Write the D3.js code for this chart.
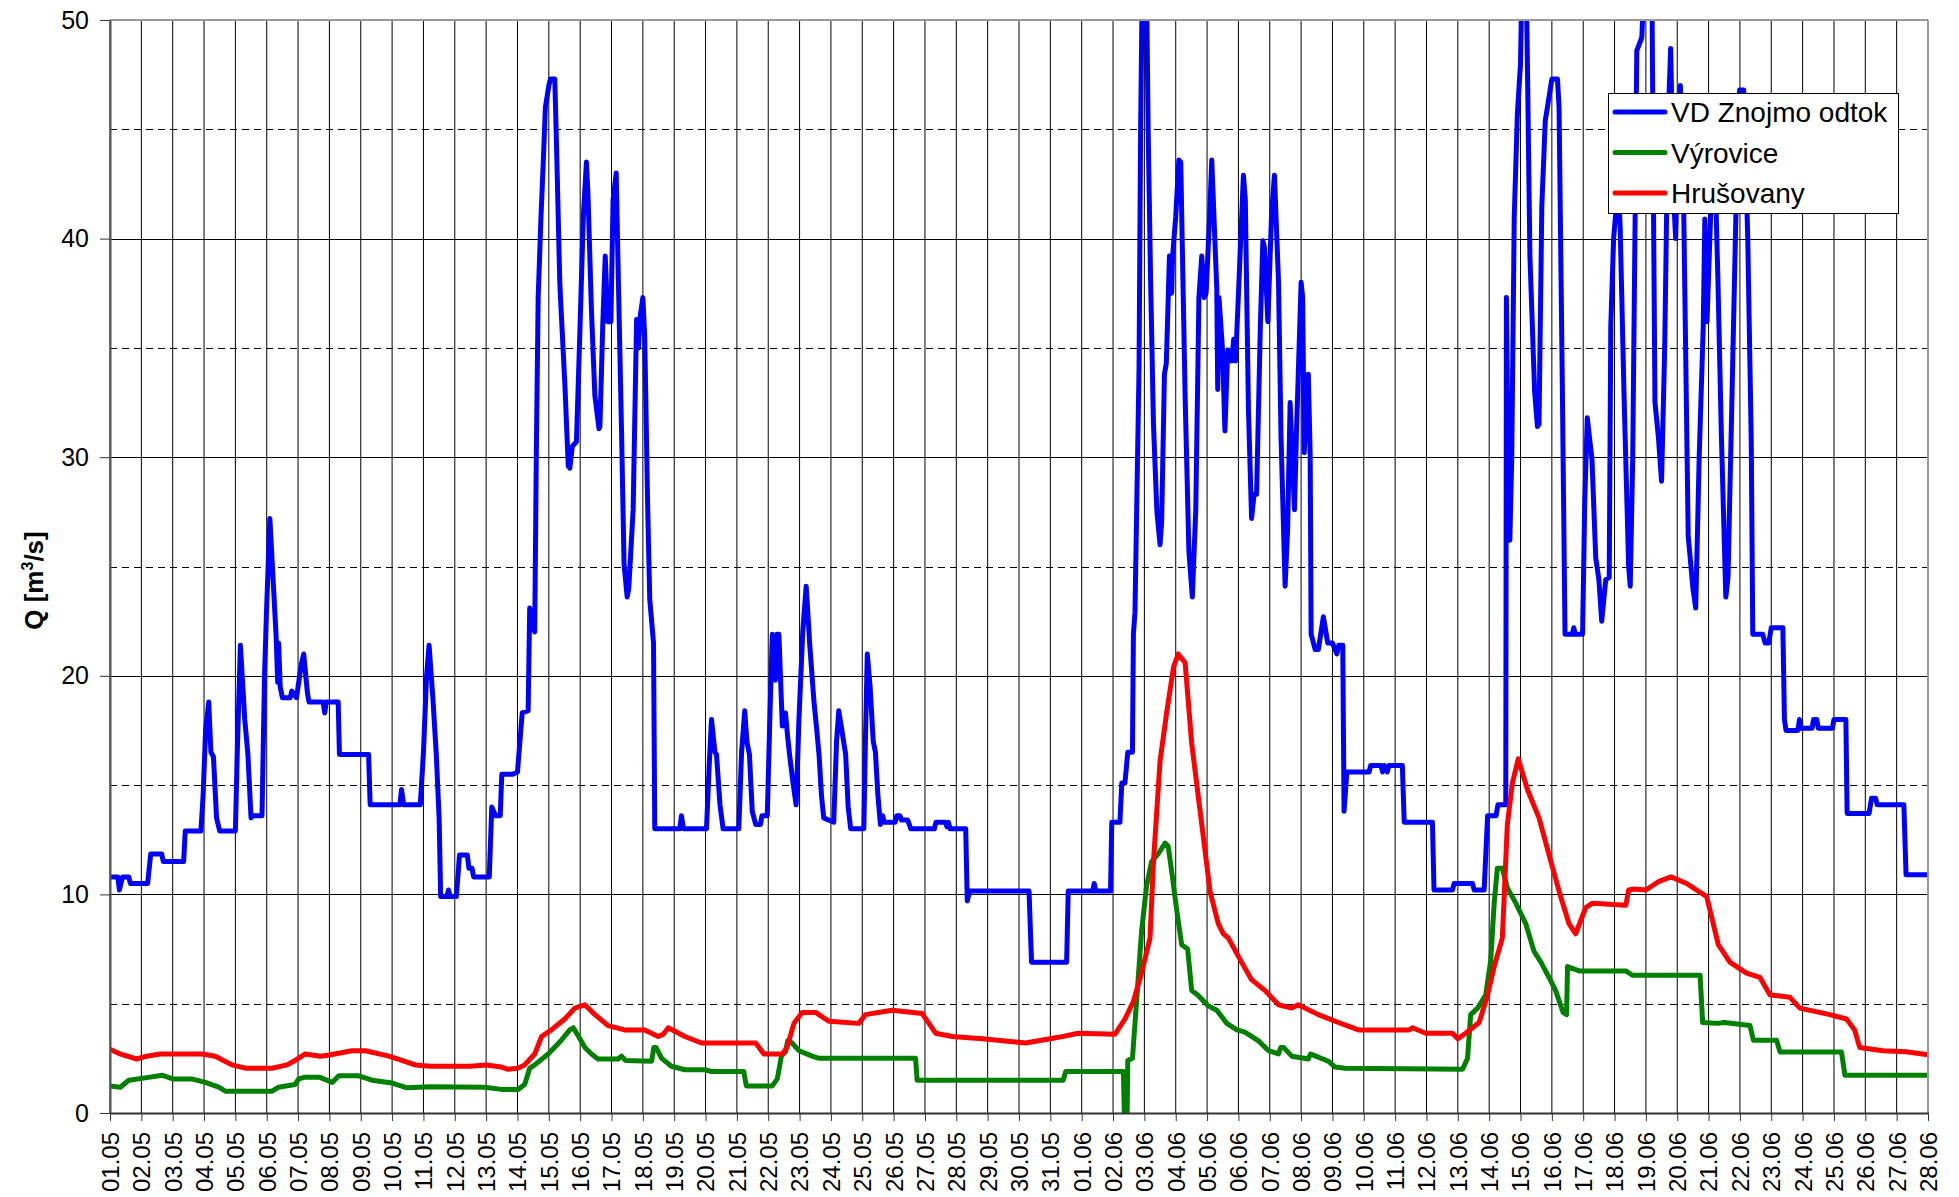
<!DOCTYPE html>
<html>
<head>
<meta charset="utf-8">
<script src="https://cdn.jsdelivr.net/npm/d3@7"></script>
<style>
  body { margin: 0; background: #fff; }
  text { font-family: "Liberation Sans", Arial, sans-serif; }
</style>
</head>
<body>
<svg id="chart" width="1959" height="1197"></svg>
<script>
// time in days from 01.05 00:00, flow in m3/s
const znojmo = [
  [0, 10.8], [0.25, 10.8], [0.3, 10.2], [0.4, 10.8], [0.6, 10.8], [0.65, 10.5], [1.2, 10.5], [1.3, 11.85], [1.65, 11.85],
  [1.7, 11.5], [2.35, 11.5], [2.4, 12.9], [2.9, 12.9], [2.97, 14.5], [3.05, 17.5], [3.15, 18.8], [3.22, 16.5], [3.3, 16.3],
  [3.4, 13.5], [3.5, 12.9], [4.0, 12.9], [4.07, 17], [4.16, 21.4], [4.3, 18], [4.4, 16.4], [4.5, 13.5], [4.55, 13.6],
  [4.85, 13.6], [4.93, 20], [4.99, 22.8], [5.1, 27.2], [5.2, 24.5], [5.3, 21.8], [5.35, 19.7], [5.38, 21.5], [5.43, 19.5],
  [5.5, 19.0], [5.75, 19.0], [5.8, 19.3], [5.95, 19.0], [6.1, 20.5], [6.18, 21.0], [6.3, 19.2], [6.35, 18.8], [6.8, 18.8],
  [6.85, 18.3], [6.9, 18.8], [7.28, 18.8], [7.32, 16.4], [8.25, 16.4], [8.3, 14.1], [9.25, 14.1], [9.3, 14.8], [9.37, 14.1],
  [9.9, 14.1], [10.0, 16.5], [10.1, 20.0], [10.18, 21.4], [10.3, 19], [10.41, 16.4], [10.5, 13.5], [10.55, 9.9], [10.75, 9.9],
  [10.8, 10.2], [10.85, 9.9], [11.05, 9.9], [11.15, 11.8], [11.4, 11.8], [11.45, 11.2], [11.55, 11.2], [11.6, 10.8],
  [12.1, 10.8], [12.18, 14.0], [12.3, 13.6], [12.45, 13.6], [12.5, 15.5], [12.85, 15.5], [13.0, 15.6], [13.15, 18.3],
  [13.34, 18.4], [13.39, 23.1], [13.55, 22.0], [13.6, 30], [13.66, 37.3], [13.75, 41], [13.82, 43.4], [13.89, 46.0],
  [14.0, 47.0], [14.05, 47.3], [14.19, 47.3], [14.25, 44], [14.35, 38], [14.4, 36.5], [14.51, 33.4], [14.62, 29.6],
  [14.67, 29.5], [14.75, 30.5], [14.88, 30.7], [14.99, 35.7], [15.1, 41], [15.2, 43.5], [15.25, 42], [15.36, 36.7],
  [15.47, 32.8], [15.6, 31.3], [15.63, 31.4], [15.72, 36], [15.8, 39.2], [15.88, 36.2], [15.98, 36.2], [16.05, 41.8],
  [16.15, 43.0], [16.22, 38], [16.32, 31.2], [16.4, 25.1], [16.5, 23.6], [16.55, 24], [16.69, 27.6], [16.8, 36.3],
  [16.86, 35.0], [16.92, 36.5], [17.0, 37.3], [17.06, 35.5], [17.15, 28], [17.22, 23.5], [17.34, 21.5], [17.38, 13.0],
  [18.18, 13.0], [18.23, 13.6], [18.3, 13.0], [19.03, 13.0], [19.12, 16], [19.19, 18.0], [19.3, 16.5], [19.35, 16.4],
  [19.46, 14.1], [19.56, 13.0], [20.06, 13.0], [20.15, 16.5], [20.25, 18.4], [20.32, 17.0], [20.4, 16.4], [20.49, 13.8],
  [20.6, 13.2], [20.75, 13.2], [20.8, 13.6], [20.97, 13.6], [21.05, 18], [21.13, 21.9], [21.23, 19.8], [21.28, 21.9],
  [21.34, 21.9], [21.45, 17.7], [21.55, 18.3], [21.62, 17.2], [21.68, 16.4], [21.79, 15.1], [21.89, 14.1], [21.98, 18],
  [22.1, 22], [22.21, 24.1], [22.28, 22.5], [22.32, 21.5], [22.46, 18.8], [22.55, 17.5], [22.62, 16.4], [22.7, 14.5],
  [22.77, 13.5], [23.09, 13.3], [23.18, 17], [23.25, 18.4], [23.35, 17.5], [23.47, 16.4], [23.55, 14], [23.63, 13.0],
  [24.05, 13.0], [24.1, 17], [24.16, 21.0], [24.25, 19.5], [24.35, 17.0], [24.42, 16.5], [24.5, 14.5], [24.58, 13.2],
  [24.65, 13.6], [24.7, 13.3], [25.05, 13.3], [25.1, 13.6], [25.2, 13.6], [25.25, 13.4], [25.45, 13.4], [25.55, 13.0],
  [26.3, 13.0], [26.35, 13.3], [26.66, 13.3], [26.7, 13.1], [26.75, 13.3], [26.8, 13.0], [27.3, 13.0], [27.35, 9.7],
  [27.42, 10.15], [29.32, 10.15], [29.4, 6.9], [30.52, 6.9], [30.57, 10.15], [31.35, 10.15], [31.4, 10.5], [31.45, 10.15],
  [31.92, 10.15], [31.96, 13.3], [32.22, 13.3], [32.28, 15.1], [32.38, 15.1], [32.47, 16.5], [32.62, 16.5], [32.65, 21.9],
  [32.7, 22.9], [32.83, 34.1], [32.88, 45], [32.95, 54], [33.05, 54], [33.12, 45], [33.2, 38], [33.29, 31.5], [33.4, 27.5],
  [33.5, 26.0], [33.55, 27], [33.64, 33.8], [33.7, 34.3], [33.8, 39.2], [33.87, 37.5], [33.9, 39.2], [34.0, 41],
  [34.1, 43.6], [34.16, 43.5], [34.3, 32.8], [34.42, 25.7], [34.53, 23.6], [34.64, 27.6], [34.74, 37.3], [34.83, 39.2],
  [34.91, 37.3], [34.97, 37.5], [35.08, 41], [35.15, 43.6], [35.31, 37.7], [35.34, 33.1], [35.38, 37.3], [35.49, 35.0],
  [35.57, 31.2], [35.66, 34.9], [35.79, 34.4], [35.85, 35.4], [35.91, 34.4], [36.02, 38.1], [36.16, 42.9], [36.22, 41.8],
  [36.32, 32.2], [36.42, 27.2], [36.5, 28.3], [36.58, 28.3], [36.7, 36], [36.78, 39.9], [36.83, 39.6], [36.94, 36.2],
  [37.06, 41.2], [37.15, 42.9], [37.28, 38.0], [37.36, 30.9], [37.49, 24.1], [37.57, 26.7], [37.65, 32.5], [37.79, 27.6],
  [37.86, 31.5], [38.0, 38.0], [38.05, 37.3], [38.1, 30.2], [38.23, 33.8], [38.29, 30.1], [38.32, 21.9], [38.45, 21.2],
  [38.55, 21.2], [38.71, 22.7], [38.85, 21.5], [39.0, 21.5], [39.14, 21.0], [39.2, 21.4], [39.33, 21.4], [39.37, 13.8],
  [39.46, 15.6], [40.17, 15.6], [40.22, 15.9], [40.55, 15.9], [40.6, 15.6], [40.65, 15.9], [40.75, 15.6], [40.8, 15.9],
  [41.23, 15.9], [41.29, 13.3], [42.19, 13.3], [42.24, 10.2], [42.83, 10.2], [42.88, 10.5], [43.47, 10.5], [43.52, 10.2],
  [43.84, 10.2], [43.95, 13.6], [44.22, 13.6], [44.28, 14.1], [44.53, 14.1], [44.55, 37.3], [44.6, 30], [44.66, 26.2],
  [44.72, 30], [44.8, 41.0], [44.9, 45.7], [45.0, 48], [45.06, 53], [45.17, 53], [45.22, 48], [45.3, 39.2], [45.45, 33],
  [45.54, 31.4], [45.59, 31.5], [45.68, 41.5], [45.79, 45.4], [45.89, 46.3], [46.0, 47.3], [46.18, 47.3], [46.23, 46],
  [46.34, 32.5], [46.42, 21.9], [46.65, 21.9], [46.7, 22.2], [46.75, 21.9], [46.98, 21.9], [47.05, 28], [47.13, 31.8],
  [47.28, 29.9], [47.4, 25.4], [47.5, 24.4], [47.59, 22.5], [47.72, 24.4], [47.83, 24.5], [47.88, 36.0], [47.97, 40],
  [48.04, 41.2], [48.1, 43], [48.18, 40.5], [48.3, 33], [48.45, 25], [48.5, 24.1], [48.58, 30], [48.71, 48.6],
  [48.87, 49.2], [48.95, 52], [49.19, 52], [49.25, 40], [49.29, 32.5], [49.4, 30.9], [49.5, 28.9], [49.6, 35], [49.7, 45],
  [49.79, 48.7], [49.88, 42], [49.95, 40], [50.02, 44], [50.1, 47.0], [50.2, 42], [50.35, 26.4], [50.5, 24], [50.59, 23.1],
  [50.7, 30], [50.83, 36.0], [50.88, 40.9], [50.95, 36.2], [51.09, 42.1], [51.2, 43.5], [51.3, 38], [51.41, 30.9],
  [51.55, 23.6], [51.62, 24.5], [51.75, 33], [51.9, 43], [51.99, 46.8], [52.12, 46.8], [52.25, 40], [52.36, 30.9],
  [52.41, 21.9], [52.73, 21.9], [52.8, 21.5], [52.92, 21.5], [53.0, 22.2], [53.37, 22.2], [53.42, 18.0], [53.47, 17.5],
  [53.85, 17.5], [53.9, 18.0], [53.95, 17.6], [54.3, 17.6], [54.35, 18.0], [54.45, 18.0], [54.5, 17.6], [54.95, 17.6],
  [55.0, 18.0], [55.38, 18.0], [55.42, 13.7], [56.12, 13.7], [56.2, 14.4], [56.33, 14.4], [56.38, 14.1], [57.23, 14.1],
  [57.3, 10.9], [58, 10.9]
]

const vyrovice = [
  [0, 1.24], [0.33, 1.18], [0.6, 1.5], [1.23, 1.63], [1.66, 1.73], [2.0, 1.56], [2.6, 1.56], [3.04, 1.4], [3.47, 1.18],
  [3.68, 1.0], [5.17, 1.0], [5.38, 1.18], [5.9, 1.3], [6.02, 1.56], [6.2, 1.63], [6.7, 1.63], [7.09, 1.4], [7.3, 1.7],
  [7.94, 1.7], [8.36, 1.5], [9.0, 1.37], [9.48, 1.15], [10.22, 1.2], [11.96, 1.18], [12.49, 1.08], [13.02, 1.08],
  [13.23, 1.3], [13.39, 2.05], [13.55, 2.2], [13.98, 2.7], [14.4, 3.33], [14.67, 3.8], [14.78, 3.9], [14.95, 3.5],
  [15.15, 3.0], [15.36, 2.7], [15.57, 2.47], [16.21, 2.47], [16.32, 2.6], [16.45, 2.4], [17.28, 2.37], [17.35, 3.0],
  [17.42, 3.0], [17.6, 2.5], [17.91, 2.14], [18.34, 1.98], [18.98, 1.98], [19.19, 1.9], [20.22, 1.9], [20.3, 1.24],
  [21.13, 1.24], [21.29, 1.56], [21.42, 2.6], [21.55, 2.8], [21.62, 3.3], [21.76, 3.2], [21.98, 2.85], [22.4, 2.6],
  [22.62, 2.5], [25.7, 2.5], [25.75, 1.5], [30.41, 1.5], [30.49, 1.9], [32.33, 1.9], [32.36, 0], [32.45, 0], [32.47, 2.4],
  [32.62, 2.5], [32.75, 5.1], [32.91, 8.3], [33.07, 10.4], [33.23, 11.5], [33.45, 11.87], [33.66, 12.35], [33.76, 12.2],
  [33.87, 11.06], [34.03, 9.3], [34.19, 7.7], [34.38, 7.5], [34.51, 5.6], [34.7, 5.4], [35.04, 4.9], [35.31, 4.7],
  [35.63, 4.1], [35.95, 3.8], [36.21, 3.7], [36.64, 3.3], [36.96, 2.85], [37.28, 2.7], [37.35, 3.0], [37.44, 3.0],
  [37.7, 2.6], [38.23, 2.47], [38.3, 2.7], [38.39, 2.65], [38.87, 2.37], [39.08, 2.1], [39.4, 2.05], [43.15, 2.0],
  [43.31, 2.5], [43.41, 4.5], [43.63, 4.8], [43.89, 5.4], [44.05, 7.0], [44.16, 9.6], [44.26, 11.2], [44.42, 11.2],
  [44.58, 10.3], [44.85, 9.6], [45.17, 8.65], [45.43, 7.4], [45.65, 6.9], [45.91, 6.2], [46.12, 5.6], [46.36, 4.6],
  [46.47, 4.5], [46.5, 6.7], [46.87, 6.5], [48.36, 6.5], [48.57, 6.3], [50.73, 6.3], [50.81, 4.14], [51.3, 4.1],
  [51.5, 4.14], [52.32, 4.0], [52.43, 3.33], [53.17, 3.33], [53.28, 2.79], [55.24, 2.79], [55.35, 1.73], [58, 1.73]
]

const hrusovany = [
  [0, 2.92], [0.32, 2.7], [0.85, 2.47], [1.17, 2.6], [1.6, 2.7], [2.94, 2.7], [3.36, 2.6], [3.89, 2.2], [4.32, 2.05],
  [5.17, 2.05], [5.65, 2.2], [5.9, 2.4], [6.23, 2.7], [6.7, 2.6], [7.0, 2.65], [7.72, 2.85], [8.15, 2.85], [8.9, 2.6],
  [9.74, 2.2], [10.22, 2.14], [11.5, 2.14], [12.0, 2.2], [12.49, 2.1], [12.7, 2.0], [13.0, 2.05], [13.23, 2.2],
  [13.55, 2.7], [13.77, 3.5], [14.08, 3.8], [14.51, 4.3], [14.83, 4.8], [15.15, 4.95], [15.47, 4.5], [15.89, 4.0],
  [16.42, 3.8], [17.06, 3.8], [17.49, 3.5], [17.65, 3.6], [17.81, 3.9], [18.34, 3.5], [18.87, 3.2], [20.6, 3.2],
  [20.86, 2.7], [21.45, 2.7], [21.6, 3.0], [21.82, 4.1], [22.08, 4.6], [22.51, 4.6], [22.93, 4.2], [23.89, 4.1],
  [24.1, 4.5], [24.95, 4.7], [25.91, 4.55], [26.34, 3.65], [26.87, 3.5], [27.83, 3.4], [29.21, 3.2], [30.22, 3.45],
  [30.89, 3.65], [32.06, 3.6], [32.38, 4.3], [32.65, 5.1], [32.91, 6.4], [33.18, 8.0], [33.29, 11.5], [33.5, 16.1],
  [33.71, 18.3], [33.93, 20.4], [34.08, 21.0], [34.3, 20.6], [34.51, 16.9], [34.78, 13.8], [35.1, 10.1], [35.36, 8.65],
  [35.52, 8.2], [35.68, 8.0], [36.1, 6.9], [36.42, 6.1], [36.85, 5.6], [37.28, 4.95], [37.7, 4.8], [37.91, 4.95],
  [38.55, 4.5], [39.19, 4.14], [39.83, 3.8], [41.45, 3.8], [41.55, 3.9], [41.98, 3.65], [42.83, 3.65], [43.0, 3.4],
  [43.25, 3.65], [43.68, 4.14], [43.95, 5.4], [44.16, 6.7], [44.42, 8.0], [44.58, 13.2], [44.74, 15.1], [44.93, 16.2],
  [45.22, 14.8], [45.59, 13.5], [45.97, 11.5], [46.28, 9.9], [46.55, 8.65], [46.76, 8.2], [47.08, 9.4], [47.3, 9.6],
  [48.36, 9.5], [48.45, 10.2], [48.62, 10.25], [49.0, 10.2], [49.42, 10.6], [49.8, 10.8], [50.3, 10.5], [50.94, 9.9],
  [51.31, 7.7], [51.68, 6.9], [52.21, 6.4], [52.64, 6.2], [52.96, 5.4], [53.59, 5.3], [53.91, 4.8], [54.87, 4.5],
  [55.4, 4.3], [55.66, 3.8], [55.82, 3.0], [56.56, 2.85], [57.3, 2.8], [58, 2.66]
]

const seriesNames = ["VD Znojmo odtok", "Výrovice", "Hrušovany"]
const seriesColors = ["#0000ff", "#008000", "#ff0000"]
const majorTicks = [0, 10, 20, 30, 40, 50]
const minorTicks = [5, 15, 25, 35, 45]

const plotLeft = 110, plotRight = 1928, plotTop = 20, plotBottom = 1113

const start = new Date(2010, 4, 1)
const end = new Date(2010, 5, 28)
const toDate = t => new Date(start.getTime() + t * 864e5)

const svg = d3.select("#chart")

const x = d3.scaleTime().domain([start, end]).range([plotLeft, plotRight])
const y = d3.scaleLinear().domain([0, 50]).range([plotBottom, plotTop])
const days = x.ticks(d3.timeDay.every(1))

// grid
svg.append("g")
    .selectAll("line")
    .data(days)
    .join("line")
    .attr("x1", d => x(d)).attr("x2", d => x(d))
    .attr("y1", plotTop).attr("y2", plotBottom)
    .attr("stroke", "#000")
    .attr("stroke-width", 1)

svg.append("g")
    .selectAll("line")
    .data(majorTicks.slice(1, -1))
    .join("line")
    .attr("x1", plotLeft).attr("x2", plotRight)
    .attr("y1", d => Math.round(y(d)) + 0.5).attr("y2", d => Math.round(y(d)) + 0.5)
    .attr("stroke", "#000")

svg.append("g")
    .selectAll("line")
    .data(minorTicks)
    .join("line")
    .attr("x1", plotLeft).attr("x2", plotRight)
    .attr("y1", d => Math.round(y(d)) + 0.5).attr("y2", d => Math.round(y(d)) + 0.5)
    .attr("stroke", "#000")
    .attr("stroke-dasharray", "7,5")

// series
svg.append("clipPath").attr("id", "plot")
    .append("rect")
    .attr("x", plotLeft).attr("y", plotTop)
    .attr("width", plotRight - plotLeft).attr("height", plotBottom - plotTop)

const line = d3.line()
    .x(d => x(toDate(d[0])))
    .y(d => y(d[1]))

svg.append("g")
    .attr("clip-path", "url(#plot)")
    .selectAll("path")
    .data([znojmo, vyrovice, hrusovany])
    .join("path")
    .attr("d", line)
    .attr("fill", "none")
    .attr("stroke", (d, i) => seriesColors[i])
    .attr("stroke-width", 5)
    .attr("stroke-linejoin", "round")
    .attr("stroke-linecap", "round")

// frame
svg.append("line")
    .attr("x1", plotLeft).attr("x2", plotRight).attr("y1", plotTop).attr("y2", plotTop)
    .attr("stroke", "#999").attr("stroke-width", 2)
svg.append("line")
    .attr("x1", plotRight).attr("x2", plotRight).attr("y1", plotTop).attr("y2", plotBottom)
    .attr("stroke", "#999").attr("stroke-width", 2)

// axes
const xAxis = svg.append("g")
    .attr("transform", `translate(0,${plotBottom})`)
    .call(d3.axisBottom(x)
        .ticks(d3.timeDay.every(1))
        .tickFormat(d3.timeFormat("%d.%m"))
        .tickSize(8)
        .tickSizeOuter(0))
xAxis.select(".domain").attr("stroke", "#333").attr("stroke-width", 2)
xAxis.selectAll(".tick line").attr("stroke", "#333")
xAxis.selectAll(".tick text")
    .attr("transform", "rotate(-90)")
    .attr("text-anchor", "end")
    .attr("x", -19)
    .attr("y", 0)
    .attr("dy", "0.35em")
    .attr("font-size", 24)
    .attr("fill", "#000")

const yAxis = svg.append("g")
    .attr("transform", `translate(${plotLeft},0)`)
    .call(d3.axisLeft(y)
        .tickValues(majorTicks)
        .tickSize(10)
        .tickPadding(11)
        .tickSizeOuter(0))
yAxis.select(".domain").attr("stroke", "#555").attr("stroke-width", 2)
yAxis.selectAll(".tick line").attr("stroke", "#333")
yAxis.selectAll(".tick text")
    .attr("font-size", 25)
    .attr("fill", "#000")

const title = svg.append("text")
    .attr("transform", `translate(43,${(plotTop + plotBottom) / 2 + 14}) rotate(-90)`)
    .attr("text-anchor", "middle")
    .attr("font-size", 26)
    .attr("font-weight", "bold")
title.append("tspan").text("Q [m")
title.append("tspan").text("3").attr("font-size", 16).attr("dy", -10)
title.append("tspan").text("/s]").attr("dy", 10)

// legend
const legend = svg.append("g")
legend.append("rect")
    .attr("x", 1608.5).attr("y", 93.5)
    .attr("width", 290).attr("height", 120)
    .attr("fill", "#fff").attr("stroke", "#000")

const entry = legend.selectAll("g.entry")
    .data(seriesNames)
    .join("g")
    .attr("class", "entry")
    .attr("transform", (d, i) => `translate(1615,${112 + i * 40.5})`)
entry.append("line")
    .attr("x1", 0).attr("x2", 50)
    .attr("stroke", (d, i) => seriesColors[i])
    .attr("stroke-width", 5)
    .attr("stroke-linecap", "round")
entry.append("text")
    .attr("x", 56).attr("y", 10)
    .attr("font-size", 28)
    .text(d => d)
</script>
</body>
</html>
